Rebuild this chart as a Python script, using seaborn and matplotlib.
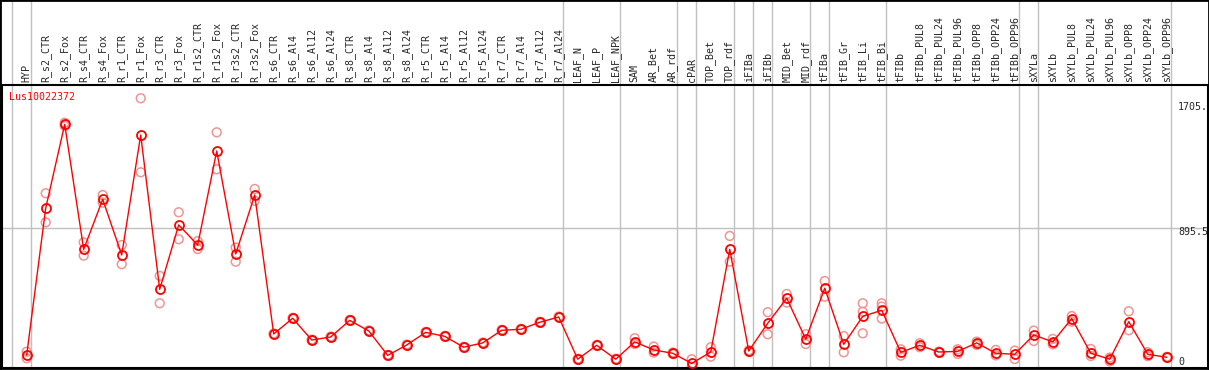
import matplotlib
matplotlib.use("Agg")
import matplotlib.pyplot as plt
import seaborn as sns
import pandas as pd
import numpy as np
from matplotlib.patches import Rectangle

gene = "Lus10022372"

samples = ["HYP",
           "R_s2_CTR", "R_s2_Fox", "R_s4_CTR", "R_s4_Fox", "R_r1_CTR", "R_r1_Fox",
           "R_r3_CTR", "R_r3_Fox", "R_r1s2_CTR", "R_r1s2_Fox", "R_r3s2_CTR", "R_r3s2_Fox",
           "R_s6_CTR", "R_s6_Al4", "R_s6_Al12", "R_s6_Al24", "R_s8_CTR", "R_s8_Al4",
           "R_s8_Al12", "R_s8_Al24", "R_r5_CTR", "R_r5_Al4", "R_r5_Al12", "R_r5_Al24",
           "R_r7_CTR", "R_r7_Al4", "R_r7_Al12", "R_r7_Al24",
           "LEAF_N", "LEAF_P", "LEAF_NPK", "SAM", "AR_Bet", "AR_rdf", "cPAR",
           "TOP_Bet", "TOP_rdf", "iFIBa", "iFIBb", "MID_Bet", "MID_rdf", "tFIBa",
           "tFIB_Gr", "tFIB_Li", "tFIB_Bi", "tFIBb", "tFIBb_PUL8", "tFIBb_PUL24",
           "tFIBb_PUL96", "tFIBb_OPP8", "tFIBb_OPP24", "tFIBb_OPP96", "sXYLa",
           "sXYLb", "sXYLb_PUL8", "sXYLb_PUL24", "sXYLb_PUL96", "sXYLb_OPP8",
           "sXYLb_OPP24", "sXYLb_OPP96"]

# mean expression per sample (dark circles joined by the line)
means = [99, 1017, 1542, 760, 1073, 725, 1475, 510, 913, 787, 1375, 731, 1100,
         231, 329, 193, 212, 316, 250, 97, 162, 241, 216, 148, 175, 254, 260, 304, 337,
         73, 160, 73, 181, 131, 110, 47, 118, 760, 124, 298, 454, 198, 517,
         166, 341, 379, 116, 160, 118, 122, 175, 110, 104, 225,
         181, 327, 110, 73, 308, 104, 85]

# replicate values (faint circles)
rep_hi = [120, 1111, 1552, 804, 1100, 787, 1705, 594, 992, 812, 1492, 771, 1138,
          234, 332, 196, 215, 319, 253, 100, 165, 244, 219, 151, 178, 257, 263, 307, 340,
          76, 163, 76, 204, 152, 115, 73, 148, 844, 128, 367, 481, 229, 562,
          218, 423, 423, 135, 173, 121, 135, 183, 131, 127, 252,
          200, 343, 137, 83, 373, 117, 88]
rep_lo = [79, 929, 1532, 721, 1052, 667, 1242, 423, 823, 762, 1261, 683, 1063,
          228, 326, 190, 209, 313, 247, 94, 159, 238, 213, 145, 172, 251, 257, 301, 334,
          70, 157, 70, 168, 114, 105, 26, 89, 683, 120, 229, 427, 168, 464,
          116, 235, 327, 95, 148, 115, 106, 162, 97, 74, 187,
          166, 308, 93, 60, 254, 92, 82]
rep_third = {"tFIB_Li": 370, "tFIB_Bi": 402}

# last sample of each tissue group -> grey separator after it
group_last = ["HYP", "R_r7_Al24", "LEAF_NPK", "AR_rdf", "cPAR", "TOP_rdf", "iFIBa",
              "iFIBb", "MID_rdf", "tFIBa", "tFIB_Bi", "tFIBb_OPP96", "sXYLa", "sXYLb_OPP96"]

mid_line = 895.5
max_label = "1705."

sns.set_style("white")
plt.rcParams["font.family"] = ["DejaVu Sans Mono", "DejaVu Sans"]

pos = np.arange(len(samples))
df = pd.DataFrame({"pos": pos, "mean": means})
reps = pd.DataFrame({"pos": np.concatenate([pos, pos]),
                     "value": rep_hi + rep_lo})
extra = pd.DataFrame({"pos": [samples.index(s) for s in rep_third],
                      "value": list(rep_third.values())})
reps = pd.concat([reps, extra], ignore_index=True)

W, H = 1209, 370
fig = plt.figure(figsize=(W / 100, H / 100), dpi=100)
ax = fig.add_axes([2 / W, (H - 368) / H, 1206 / W, 283 / H])

ax.axhline(mid_line, color="#c0c0c0", lw=1, zorder=0)
sep = [-1] + [samples.index(s) for s in group_last]
for s in sep:
    ax.axvline(s + 0.2, ymin=0, ymax=368 / 283, color="#c0c0c0", lw=1,
               clip_on=False, zorder=0)

sns.scatterplot(data=reps, x="pos", y="value", ax=ax, marker="o", s=40,
                facecolors="none", edgecolor="#f09494", linewidth=1.1, zorder=2)
sns.lineplot(data=df, x="pos", y="mean", ax=ax, color="red", lw=1,
             marker="o", markersize=6.5, markerfacecolor="none",
             markeredgecolor="red", markeredgewidth=1.3, zorder=3)

ax.set_xlim(-1.3, 62.17)
ax.set_ylim(18, 1788)
ax.set_xticks(pos)
ax.set_xticklabels(samples, rotation=90, fontsize=7.2)
ax.xaxis.tick_top()
ax.tick_params(axis="x", length=0, pad=2)
ax.set_yticks([])
ax.set_xlabel("")
ax.set_ylabel("")
for sp in ax.spines.values():
    sp.set_color("black")
    sp.set_linewidth(1.5)

ax.text(0.006, 0.958, gene, transform=ax.transAxes, color="red",
        fontsize=7.2, va="center", ha="left")

# value labels at the right edge, just below their level
tr = ax.get_yaxis_transform()
lx = (1178 - 2) / 1206
ax.annotate(max_label, (lx, 1705), xycoords=tr, xytext=(0, -9),
            textcoords="offset pixels", fontsize=7.2, va="center", ha="left")
ax.annotate(str(mid_line), (lx, mid_line), xycoords=tr, xytext=(0, -4),
            textcoords="offset pixels", fontsize=7.2, va="center", ha="left")
ax.annotate("0", (lx, 0), xycoords=tr, xytext=(0, 9),
            textcoords="offset pixels", fontsize=7.2, va="center", ha="left")

fig.patches.append(Rectangle((0, 0), 1, 1, transform=fig.transFigure, fill=False,
                             edgecolor="black", lw=2))

fig.savefig("out.png", dpi=100, facecolor="white")
